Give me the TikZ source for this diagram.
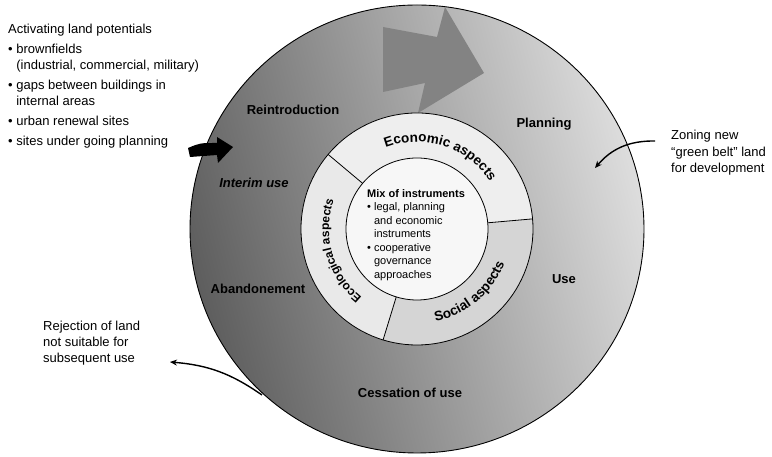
\documentclass[tikz,border=0pt]{standalone}
\usepackage{fontspec}
\setmainfont{Liberation Sans}
\usetikzlibrary{arrows.meta,decorations.text,calc}
\definecolor{shA}{HTML}{5E5E5E}
\definecolor{shB}{HTML}{AEAEAE}
\definecolor{shC}{HTML}{DDDDDD}
\definecolor{econc}{HTML}{EEEEEE}
\definecolor{ecolc}{HTML}{E9E9E9}
\definecolor{socc}{HTML}{D5D5D5}
\definecolor{innerc}{HTML}{F7F7F7}
\definecolor{bigarrow}{HTML}{838383}
\newcommand\myarcfont{\bfseries\fontsize{13.5}{15}\selectfont}
\newcommand\myarcfontsmall{\bfseries\fontsize{12}{14}\selectfont}
\begin{document}
\begin{tikzpicture}[x=1pt,y=1pt,
  lbl/.style={font=\bfseries\fontsize{13}{15}\selectfont, inner sep=0pt},
  note/.style={font=\fontsize{13}{16}\selectfont, inner sep=0pt, anchor=north west, align=left},
  thinarrow/.style={-{Stealth[length=7pt,width=6pt]}, line width=1.4pt},
  rim/.style={draw=black, line width=0.8pt},
  arctext/.style={decorate, decoration={text along path, text align=center, text={#1}}}]
\useasboundingbox (0,0) rectangle (772,457);
\coordinate (C) at (417,228);
% outer disc
\shade[left color=shA, middle color=shB, right color=shC, shading angle=105] (C) ellipse [x radius=227pt, y radius=224pt];
\draw[line width=0.9pt] (C) ellipse [x radius=227pt, y radius=224pt];
% big grey arrow
\fill[bigarrow] (383,430) -- (437,420) -- (445,450) -- (484,384) -- (418,344) -- (425,374) -- (383,365) -- cycle;
% ring
\fill[socc] (C) circle[radius=116pt];
\fill[econc] (C) -- ($(C)+(5:116pt)$) arc[start angle=5, end angle=140, radius=116pt] -- cycle;
\fill[ecolc] (C) -- ($(C)+(140:116pt)$) arc[start angle=140, end angle=253, radius=116pt] -- cycle;
\draw[rim] (C) circle[radius=116pt];
\filldraw[fill=innerc, rim] (C) circle[radius=71pt];
\foreach \a in {5,140,253} \draw[rim] ($(C)+(\a:71pt)$) -- ($(C)+(\a:116pt)$);
% ring texts
\path[arctext={|\myarcfont|Economic aspects}] ($(C)+(150:87pt)$) arc[start angle=150, end angle=-6, radius=87pt];
\path[arctext={|\myarcfontsmall|Ecological aspects}] ($(C)+(270:88pt)$) arc[start angle=270, end angle=122, radius=88pt];
\path[arctext={|\myarcfont|Social aspects}] ($(C)+(-120:94pt)$) arc[start angle=-120, end angle=20, radius=94pt];
% inner text
\node[note, font=\fontsize{11}{13.5}\selectfont] (mix) at (367,268) {\textbf{Mix of instruments}\\
• legal, planning\\
\hphantom{• }and economic\\
\hphantom{• }instruments\\
• cooperative\\
\hphantom{• }governance\\
\hphantom{• }approaches};
% outer ring labels
\node[lbl] (reintro) at (293,347) {Reintroduction};
\node[lbl] (plan) at (544,333) {Planning};
\node[lbl, font=\bfseries\itshape\fontsize{13}{15}\selectfont] (interim) at (254,274) {Interim use};
\node[lbl] (aband) at (258,168) {Abandonement};
\node[lbl] (use) at (564,178) {Use};
\node[lbl] (cess) at (410,64) {Cessation of use};
% black block arrow
\fill[black] (188,309) .. controls (200,314) .. (217,314) -- (217,320) -- (233,310) -- (218,294) -- (217,302) .. controls (203,301) .. (190,300) -- cycle;
% side notes
\node[note] (act) at (8,433) {Activating land potentials\\[4pt]
• brownfields\\
\hphantom{• }(industrial, commercial, military)\\[4pt]
• gaps between buildings in\\
\hphantom{• }internal areas\\[4pt]
• urban renewal sites\\[4pt]
• sites under going planning};
\node[note, font=\fontsize{13}{16.5}\selectfont] (zone) at (671,327) {Zoning new\\“green belt” land\\for development};
\node[note] (reject) at (43,136) {Rejection of land\\not suitable for\\subsequent use};
% thin arrows
\coordinate (zA) at (655,316);
\coordinate (zB) at (595,289);
\draw[thinarrow] (zA) to[bend right=25] (zB);
\coordinate (rA) at (262,62);
\coordinate (rB) at (170,95);
\draw[thinarrow] (rA) to[bend right=15] (rB);
\end{tikzpicture}
\end{document}
